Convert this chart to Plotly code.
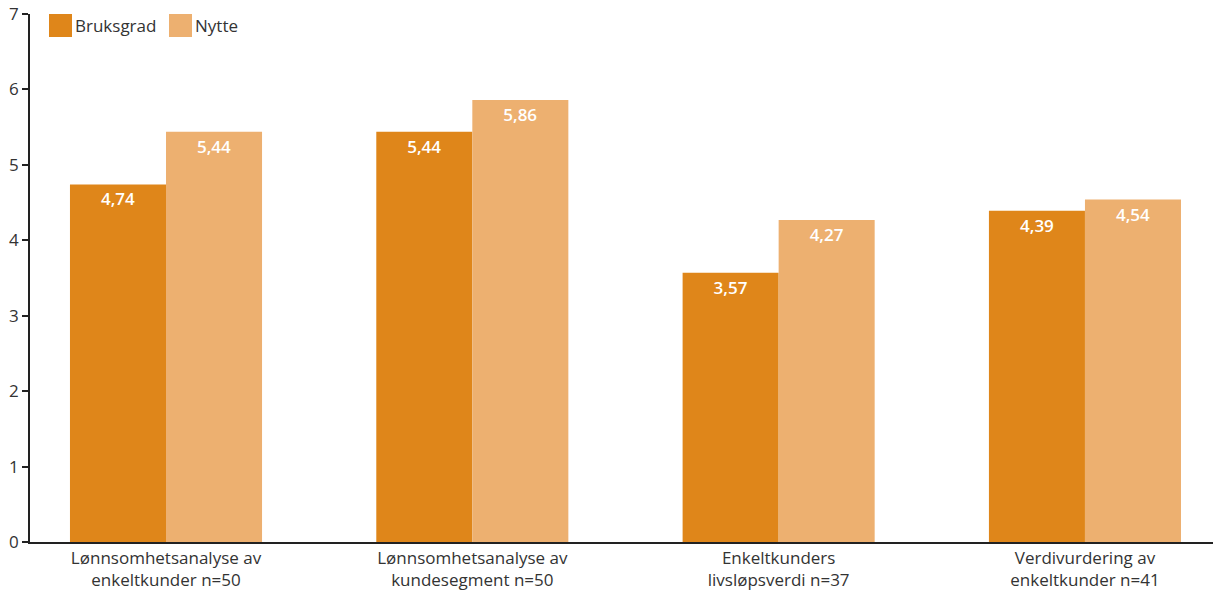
import plotly.graph_objects as go

categories = [
    "Lønnsomhetsanalyse av<br>enkeltkunder n=50",
    "Lønnsomhetsanalyse av<br>kundesegment n=50",
    "Enkeltkunders<br>livsløpsverdi n=37",
    "Verdivurdering av<br>enkeltkunder n=41",
]
bruksgrad = [4.74, 5.44, 3.57, 4.39]
nytte = [5.44, 5.86, 4.27, 4.54]
series_names = ["Bruksgrad", "Nytte"]
colors = ["#DF861A", "#EDB070"]

W, H = 1213, 591
ML, MR, MT, MB = 30, 0, 14, 49
PW, PH = W - ML - MR, H - MT - MB

def fmt(v):
    return f"{v:.2f}".replace(".", ",")

fig = go.Figure()
for name, vals, col in zip(series_names, [bruksgrad, nytte], colors):
    fig.add_trace(go.Bar(
        x=categories, y=vals, name=name, marker=dict(color=col, line=dict(width=0)),
        text=[fmt(v) for v in vals], textposition="inside", insidetextanchor="end",
        textfont=dict(color="white", size=17, family="Open Sans", weight=600),
        showlegend=False, cliponaxis=False,
    ))

# custom legend (large square swatches)
def px2x(p):
    return (p - ML) / PW

def py2y(p):
    return (H - MB - p) / PH

legend_items = [(49, series_names[0], colors[0]), (169, series_names[1], colors[1])]
for x0, name, col in legend_items:
    fig.add_shape(type="rect", xref="paper", yref="paper",
                  x0=px2x(x0), x1=px2x(x0 + 23), y0=py2y(37), y1=py2y(14),
                  fillcolor=col, line=dict(width=0))
    fig.add_annotation(xref="paper", yref="paper", x=px2x(x0 + 24), y=py2y(25.5),
                       text=name, showarrow=False, xanchor="left", yanchor="middle",
                       font=dict(size=17, color="#333333", family="Open Sans"))

fig.update_layout(
    width=W, height=H,
    margin=dict(l=ML, r=MR, t=MT, b=MB),
    paper_bgcolor="white", plot_bgcolor="white",
    barmode="group", bargap=0.373, bargroupgap=0,
    separators=", ",
    font=dict(family="Open Sans", size=17, color="#333333"),
)
fig.update_xaxes(
    range=[-0.444, 3.418], showgrid=False, showline=True, linecolor="#222222",
    linewidth=1.5, ticks="", tickfont=dict(size=17, color="#333333"),
)
fig.update_yaxes(
    range=[0, 7], dtick=1, showgrid=False, zeroline=False, showline=True,
    linecolor="#222222", linewidth=1.5, ticks="outside", ticklen=6,
    tickcolor="#222222", tickwidth=1.5, tickfont=dict(size=17, color="#333333"),
)

fig.write_html("out.html")
